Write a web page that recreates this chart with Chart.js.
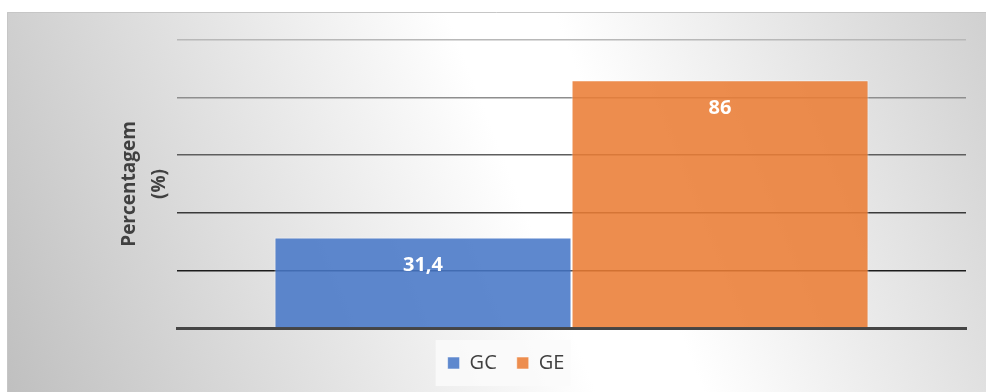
<!DOCTYPE html>
<html>
<head>
<meta charset="utf-8">
<script src="https://cdn.jsdelivr.net/npm/chart.js@4/dist/chart.umd.min.js"></script>
<style>
  html, body { margin: 0; padding: 0; background: #ffffff; }
  #wrap { width: 986px; height: 392px; position: relative; }
</style>
</head>
<body>
<div id="wrap"><canvas id="c"></canvas></div>
<script>
// Chart data
const categories = [''];
const seriesNames = ['GC', 'GE'];
const gcValues = [31.4];
const geValues = [86];
const yTicks = [0, 20, 40, 60, 80, 100];

const gridColors = {100: '#b8b8b8', 80: '#8e8e8e', 60: '#5e5e5e', 40: '#3a3a3a', 20: '#1c1c1c', 0: 'rgba(0,0,0,0)'};

// Panel background: soft light band across a gray field
const panelBackground = {
  id: 'panelBackground',
  beforeDraw(chart) {
    const ctx = chart.ctx;
    const x0 = 7, y0 = 12, w = chart.width - x0, h = chart.height - y0;
    ctx.save();
    const cx = 575, cy = 202, dx = 0.93, dy = -0.367, r = 620;
    const g = ctx.createLinearGradient(cx - r * dx, cy - r * dy, cx + r * dx, cy + r * dy);
    g.addColorStop(0, '#bdbdbd');
    g.addColorStop(0.46, '#ffffff');
    g.addColorStop(0.54, '#ffffff');
    g.addColorStop(1, '#bdbdbd');
    ctx.fillStyle = g;
    ctx.fillRect(x0, y0, w, h);
    ctx.strokeStyle = '#c6c6c6';
    ctx.lineWidth = 1;
    ctx.beginPath();
    ctx.moveTo(x0 + 0.5, chart.height);
    ctx.lineTo(x0 + 0.5, y0 + 0.5);
    ctx.lineTo(chart.width, y0 + 0.5);
    ctx.stroke();

    // faint panel behind the legend
    const boxes = chart.legend && chart.legend.legendHitBoxes;
    if (boxes && boxes.length) {
      const l = Math.min(...boxes.map(b => b.left)) - 12;
      const rgt = Math.max(...boxes.map(b => b.left + b.width)) + 6;
      const mid = boxes[0].top + boxes[0].height / 2;
      ctx.fillStyle = 'rgba(250,250,250,0.85)';
      ctx.fillRect(l, mid - 23, rgt - l, 46);
    }
    ctx.restore();
  }
};

// White value labels near the top of each bar
const valueLabels = {
  id: 'valueLabels',
  afterDatasetsDraw(chart) {
    const ctx = chart.ctx;
    ctx.save();
    ctx.fillStyle = '#ffffff';
    ctx.font = 'bold 20px "Open Sans", sans-serif';
    ctx.textAlign = 'center';
    ctx.textBaseline = 'middle';
    chart.data.datasets.forEach((ds, i) => {
      const meta = chart.getDatasetMeta(i);
      meta.data.forEach((bar, j) => {
        const txt = String(ds.data[j]).replace('.', ',');
        ctx.fillText(txt, bar.x, bar.y + 28);
      });
    });
    ctx.restore();
  }
};

new Chart(document.getElementById('c'), {
  type: 'bar',
  data: {
    labels: categories,
    datasets: [
      {
        label: seriesNames[0],
        data: gcValues,
        backgroundColor: 'rgba(72,119,199,0.88)',
        borderColor: 'rgba(255,255,255,0.55)',
        borderWidth: 1
      },
      {
        label: seriesNames[1],
        data: geValues,
        backgroundColor: 'rgba(235,125,54,0.88)',
        borderColor: 'rgba(255,255,255,0.55)',
        borderWidth: 1
      }
    ]
  },
  options: {
    responsive: true,
    maintainAspectRatio: false,
    animation: false,
    layout: { padding: { left: 46, right: 20, top: 40, bottom: 9 } },
    datasets: { bar: { barPercentage: 1, categoryPercentage: 0.753 } },
    scales: {
      x: {
        ticks: { display: false },
        grid: { display: true, drawOnChartArea: false, drawTicks: true, tickLength: 5, color: 'rgba(0,0,0,0)' },
        border: { display: true, color: '#454545', width: 3 }
      },
      y: {
        min: 0,
        max: 100,
        afterBuildTicks(axis) { axis.ticks = yTicks.map(v => ({ value: v })); },
        ticks: { display: false },
        grid: {
          drawTicks: false,
          lineWidth: 1.6,
          color: (ctx) => gridColors[ctx.tick ? ctx.tick.value : 0] || '#888'
        },
        border: { display: false },
        title: {
          display: true,
          text: ['Percentagem', '(%)'],
          color: '#404040',
          font: { family: '"Open Sans", sans-serif', size: 19, weight: 'bold', lineHeight: 1.58 },
          padding: { top: 69, bottom: 2 }
        }
      }
    },
    plugins: {
      legend: {
        position: 'bottom',
        labels: {
          color: '#404040',
          font: { family: '"Open Sans", sans-serif', size: 20 },
          boxWidth: 12,
          boxHeight: 12,
          padding: 20
        }
      },
      tooltip: { enabled: false }
    }
  },
  plugins: [panelBackground, valueLabels]
});
</script>
</body>
</html>
